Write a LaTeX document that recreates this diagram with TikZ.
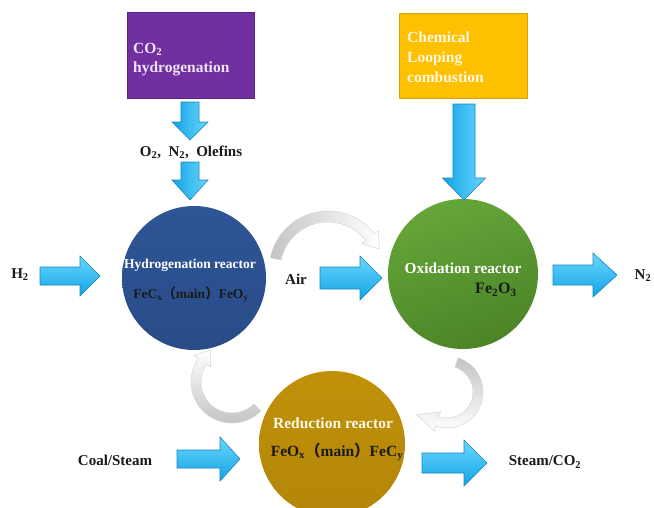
\documentclass[tikz,border=0pt]{standalone}
\usepackage{fontspec}
\setmainfont{Liberation Serif}
\newfontfamily\cjkfont{Noto Sans CJK SC}
\usetikzlibrary{calc}
\definecolor{boxpurple}{HTML}{7030A0}
\definecolor{boxpurpleedge}{HTML}{5A2384}
\definecolor{boxgold}{HTML}{FFC000}
\definecolor{boxgoldedge}{HTML}{D9A400}
\definecolor{purpletext}{HTML}{EFE4F8}
\definecolor{goldtext}{HTML}{FFF9E6}
\definecolor{arrowlight}{HTML}{6AD6FF}
\definecolor{arrowdark}{HTML}{12A4E4}
\definecolor{arrowedge}{HTML}{1786BE}
\definecolor{hydroblue}{HTML}{2F5597}
\definecolor{hydroblue2}{HTML}{294C88}
\definecolor{oxgreen}{HTML}{65A63A}
\definecolor{oxgreen2}{HTML}{4B8426}
\definecolor{redgold}{HTML}{C09108}
\definecolor{redgold2}{HTML}{B3860A}
\definecolor{labeltext}{HTML}{1A1A1A}
\definecolor{cyclegray}{HTML}{C4C4C4}
\definecolor{cycleedge}{HTML}{D6D6D6}
\newcommand\lblfont{\fontsize{15}{18}\selectfont\bfseries}
\newcommand\boxfont{\fontsize{15.5}{19}\selectfont\bfseries}
\newcommand\fwl{{\cjkfont （}}
\newcommand\fwr{{\cjkfont ）}}
\newcommand\harrow[6]{%
  \draw[blockarr] (#1,#2-#5) -- (#3,#2-#5) -- (#3,#2-#6) -- (#4,#2) -- (#3,#2+#6) -- (#3,#2+#5) -- (#1,#2+#5) -- cycle;}
\newcommand\varrow[6]{%
  \draw[vblockarr] (#1-#5,#2) -- (#1-#5,#3) -- (#1-#6,#3) -- (#1,#4) -- (#1+#6,#3) -- (#1+#5,#3) -- (#1+#5,#2) -- cycle;}
\tikzset{
  blockarr/.style={draw=arrowedge, line width=0.6pt, top color=arrowlight, bottom color=arrowdark, line join=miter},
  vblockarr/.style={draw=arrowedge, line width=0.6pt, left color=arrowdark, right color=arrowlight, line join=miter},
  cyclearr/.style={draw=cycleedge, line width=0.5pt},
  srcbox/.style={rectangle, inner sep=0pt, line width=1pt},
  reactor/.style={circle, inner sep=0pt, draw=none},
  lbl/.style={font=\lblfont, text=labeltext, inner sep=0pt},
  boxtxt/.style={font=\boxfont, inner sep=0pt, anchor=base west},
}
\begin{document}
\begin{tikzpicture}[x=1pt,y=-1pt]
\useasboundingbox (0,0) rectangle (654,507);
\clip (0,0) rectangle (654,507);
\fill[white] (0,0) rectangle (654,507);

% gray cycle arrows
\begin{scope}[shift={(328,270)}]
  \draw[cyclearr, left color=cyclegray, right color=white]
    plot[domain=-168:-38, samples=40] (\x:59) -- (-38:64) -- ($(-38:53.5)+(52:15)$) -- (-38:43)
    -- plot[domain=-38:-168, samples=40] (\x:48) -- cycle;
\end{scope}
\begin{scope}[shift={(232,382)}]
  \draw[cyclearr, bottom color=cyclegray, top color=white]
    plot[domain=45:215, samples=40] (\x:41) -- (215:46) -- ($(215:36)+(305:14)$) -- (215:26)
    -- plot[domain=215:45, samples=40] (\x:31) -- cycle;
\end{scope}
\begin{scope}[shift={(447,392)}]
  \draw[cyclearr, top color=cyclegray, bottom color=white]
    plot[domain=-72:108, samples=40] (\x:36) -- (108:41) -- ($(108:31)+(198:22)$) -- (108:21)
    -- plot[domain=108:-72, samples=40] (\x:26) -- cycle;
\end{scope}

% reactors
\node[reactor, minimum size=144pt, top color=hydroblue, bottom color=hydroblue2] (hyd) at (194,278) {};
\node[reactor, minimum size=150pt, top color=oxgreen, bottom color=oxgreen2, shading angle=20] (oxi) at (463,274) {};
\node[reactor, minimum size=146pt, top color=redgold, bottom color=redgold2] (red) at (332,444) {};

% source boxes
\node[srcbox, fill=boxpurple, draw=boxpurpleedge, minimum width=127pt, minimum height=86pt] (co2box) at (190.5,55) {};
\node[srcbox, fill=boxgold, draw=boxgoldedge, minimum width=128pt, minimum height=85pt] (clcbox) at (463,55.5) {};
\node[boxtxt, text=purpletext] (co2a) at (133,53) {CO\textsubscript{2}};
\node[boxtxt, text=purpletext] (co2b) at (133,72) {hydrogenation};
\node[boxtxt, text=goldtext] (clca) at (407,42) {Chemical};
\node[boxtxt, text=goldtext] (clcb) at (407,62) {Looping};
\node[boxtxt, text=goldtext] (clcc) at (407,82) {combustion};

% block arrows
\varrow{190}{102}{122}{140}{9}{18}
\varrow{190}{162}{180}{200}{9}{18}
\varrow{464}{104}{178}{200}{11}{21.5}
\harrow{40}{276}{80}{100}{9}{20}
\harrow{320}{278}{360}{382}{11}{22}
\harrow{553}{275}{593}{617}{10}{22}
\harrow{177}{459}{220}{240}{9}{22}
\harrow{422}{463}{464}{487}{10}{23}

% labels
\node[lbl] (olef) at (191,152) {O\textsubscript{2},\enspace N\textsubscript{2},\enspace Olefins};
\node[lbl] (h2) at (20,275) {H\textsubscript{2}};
\node[lbl] (air) at (296,279) {Air};
\node[lbl] (n2) at (643,276) {N\textsubscript{2}};
\node[lbl] (coal) at (115,460) {Coal/Steam};
\node[lbl] (steam) at (545,462) {Steam/CO\textsubscript{2}};

\node[lbl, text=white, font=\fontsize{13.5}{16}\selectfont\bfseries] (hydt) at (190,265) {Hydrogenation reactor};
\node[lbl, font=\fontsize{13.5}{16}\selectfont\bfseries] (hydf) at (191,295) {FeC\textsubscript{x}\fwl main\fwr FeO\textsubscript{y}};
\node[lbl, text=white, font=\fontsize{15.3}{18}\selectfont\bfseries] (oxit) at (463,268) {Oxidation reactor};
\node[lbl, font=\fontsize{16}{18}\selectfont\bfseries] (oxif) at (496,290) {Fe\textsubscript{2}O\textsubscript{3}};
\node[lbl, text=goldtext, font=\fontsize{15.5}{18}\selectfont\bfseries] (redt) at (333,423) {Reduction reactor};
\node[lbl, font=\fontsize{15.5}{18}\selectfont\bfseries] (redf) at (337,452) {FeO\textsubscript{x}\fwl main\fwr FeC\textsubscript{y}};
\end{tikzpicture}
\end{document}
